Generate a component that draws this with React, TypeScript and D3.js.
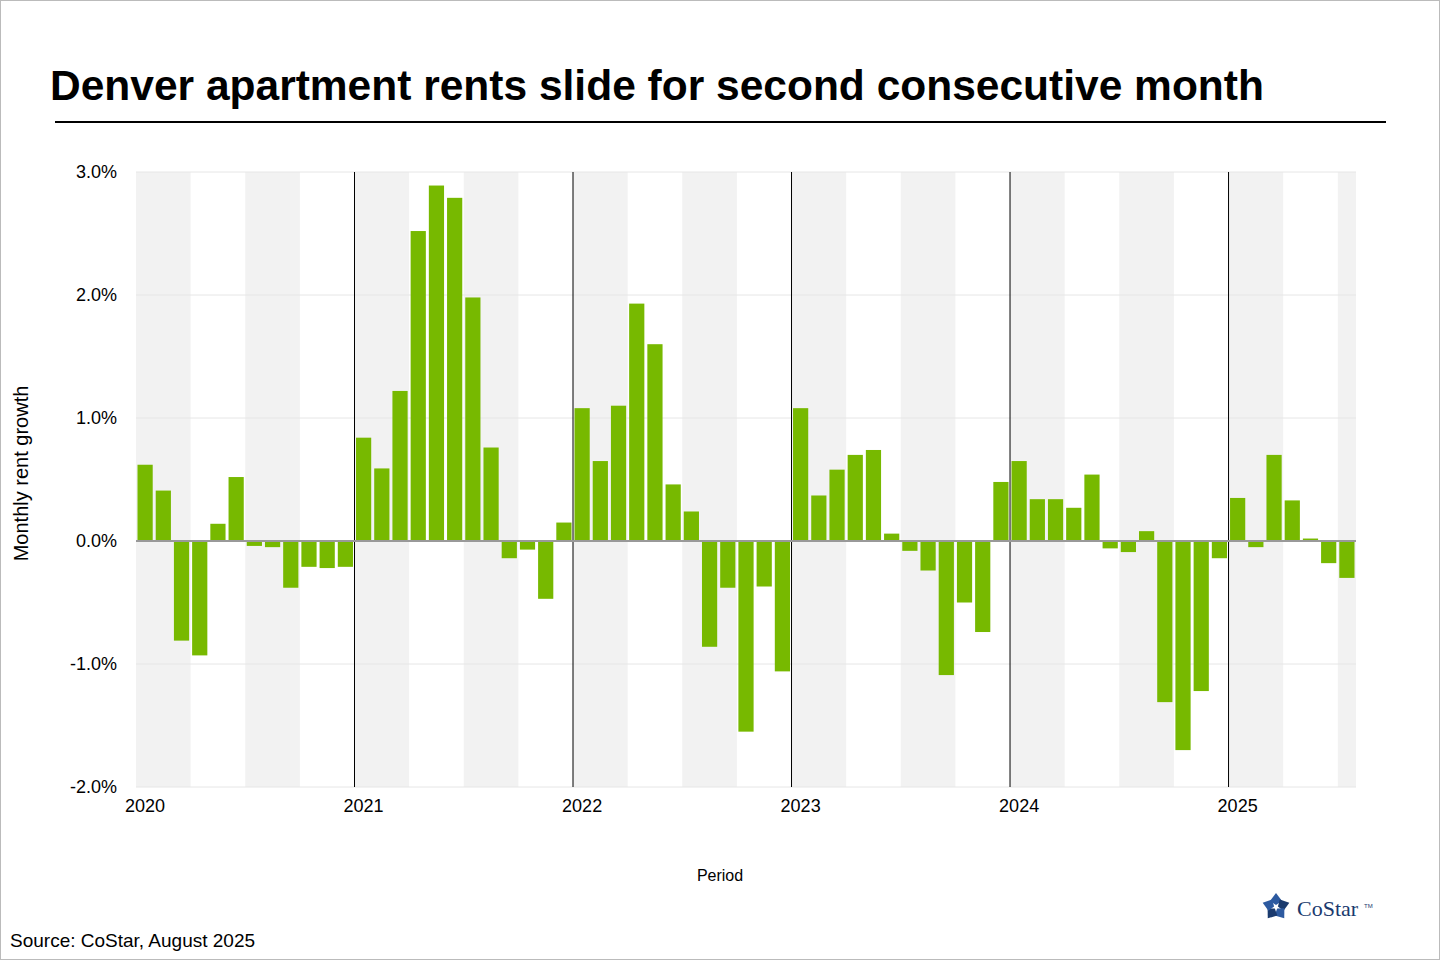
import React from "react";
import * as d3 from "d3";

const years = [2020, 2021, 2022, 2023, 2024, 2025];
const values = [
  0.62, 0.41, -0.81, -0.93, 0.14, 0.52, -0.04, -0.05, -0.38, -0.21, -0.22, -0.21,
  0.84, 0.59, 1.22, 2.52, 2.89, 2.79, 1.98, 0.76, -0.14, -0.07, -0.47, 0.15,
  1.08, 0.65, 1.10, 1.93, 1.60, 0.46, 0.24, -0.86, -0.38, -1.55, -0.37, -1.06,
  1.08, 0.37, 0.58, 0.70, 0.74, 0.06, -0.08, -0.24, -1.09, -0.50, -0.74, 0.48,
  0.65, 0.34, 0.34, 0.27, 0.54, -0.06, -0.09, 0.08, -1.31, -1.70, -1.22, -0.14,
  0.35, -0.05, 0.70, 0.33, 0.02, -0.18, -0.30,
];
const yTicks = [3, 2, 1, 0, -1, -2];

export default function App() {
  const W = 1440, H = 960;
  const x0 = 136, x1 = 1356, yTop = 172, yBot = 787;
  const n = values.length;
  const x = d3.scaleLinear().domain([0, n]).range([x0, x1]);
  const y = d3.scaleLinear().domain([-2, 3]).range([yBot, yTop]);
  const mw = x(1) - x(0);
  const quarters = d3.range(0, n, 3).filter((q) => (q / 3) % 2 === 0);
  const font = "Arial, 'Liberation Sans', sans-serif";
  return (
    <svg width={W} height={H} style={{ position: "absolute", left: 0, top: 0, fontFamily: font }}>
      <rect x={0.5} y={0.5} width={W - 1} height={H - 1} fill="#fff" stroke="#bbb" />
      <text x={50} y={100} fontSize={42.5} fontWeight="bold" fill="#000">Denver apartment rents slide for second consecutive month</text>
      <line x1={55} x2={1386} y1={122} y2={122} stroke="#000" strokeWidth={2} />
      {quarters.map((q) => (
        <rect key={q} x={x(q)} y={yTop} width={Math.min(x(q + 3), x1) - x(q)} height={yBot - yTop} fill="#f2f2f2" />
      ))}
      {yTicks.map((t) => (
        <g key={t}>
          {t !== 0 && <line x1={x0} x2={x1} y1={y(t)} y2={y(t)} stroke="#e6e6e6" />}
          <text x={117} y={y(t) + 6} textAnchor="end" fontSize={18} fill="#000">{t.toFixed(1) + "%"}</text>
        </g>
      ))}
      {years.slice(1).map((yr, i) => (
        <line key={yr} x1={x((i + 1) * 12)} x2={x((i + 1) * 12)} y1={yTop} y2={yBot} stroke="#000" />
      ))}
      {values.map((v, i) => (
        <rect key={i} x={x(i) + 1.5} width={mw - 3} y={Math.min(y(v), y(0))} height={Math.abs(y(v) - y(0))} fill="#77b900" />
      ))}
      <line x1={x0} x2={x1} y1={y(0)} y2={y(0)} stroke="#999" strokeWidth={2} />
      {years.map((yr, i) => (
        <text key={yr} x={x(i * 12) + mw / 2} y={812} textAnchor="middle" fontSize={18}>{yr}</text>
      ))}
      <text x={720} y={881} textAnchor="middle" fontSize={16}>Period</text>
      <text transform={`translate(28,${(yTop + yBot) / 2 - 6}) rotate(-90)`} textAnchor="middle" fontSize={20}>Monthly rent growth</text>
      <text x={10} y={947} fontSize={19}>Source: CoStar, August 2025</text>
      <g transform="translate(1276,907)">
        {d3.range(5).map((k) => (
          <path key={k} d="M0,-14 L6,-6 L0,-2 L-6,-6 Z" fill={k % 2 ? "#1a3a6e" : "#2d5aa0"} transform={`rotate(${k * 72})`} />
        ))}
      </g>
      <text x={1297} y={916} fontSize={22} fontFamily="'Liberation Serif', serif" fill="#1a3a6e">CoStar</text>
      <text x={1364} y={908} fontSize={6} fill="#1a3a6e">TM</text>
    </svg>
  );
}
